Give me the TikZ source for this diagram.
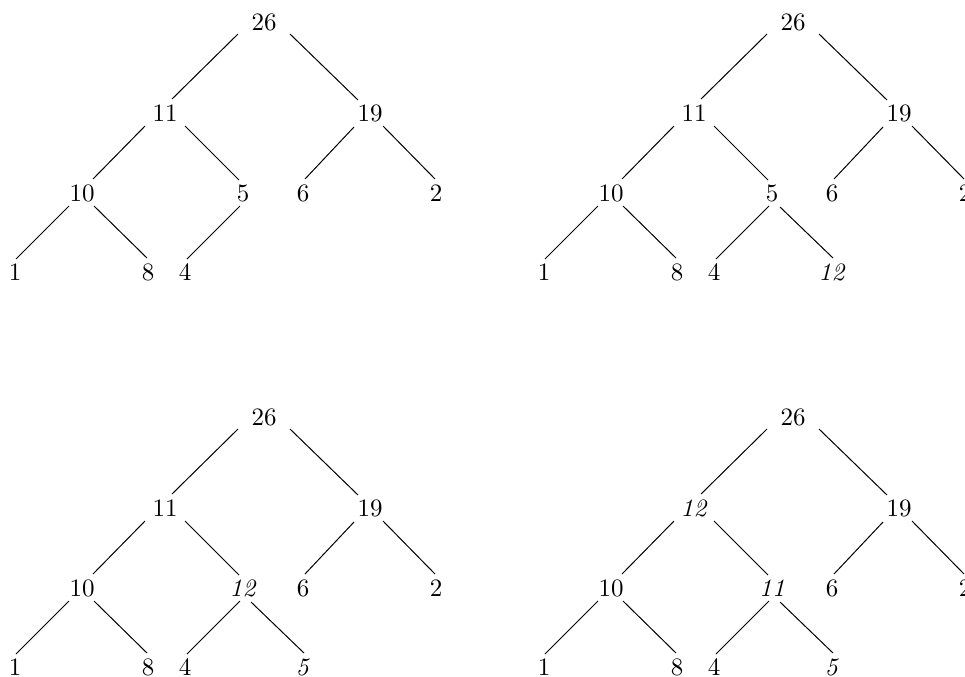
\documentclass[tikz,border=0pt]{standalone}
\tikzset{
  val/.style={inner sep=0pt, font=\normalsize},
  tedge/.style={line width=0.4pt, draw=black}
}
% edge from parent #1 (offset #2) to child #3 (offset #4)
\newcommand\hedge[4]{\draw[tedge] ([shift={(#2)}]#1.center) -- ([shift={(#4)}]#3.center);}
% heap tree: #1 prefix, #2 x offset, #3 y offset, #4 label at 11-slot, #5 label at 5-slot, #6 extra leaf (1 = yes), #7 leaf label
\newcommand\heaptree[7]{%
  \node[val] (#1r) at ({264+#2},{22+#3}) {26};
  \node[val] (#1a) at ({165+#2},{113+#3}) {#4};
  \node[val] (#1b) at ({370+#2},{113+#3}) {19};
  \node[val] (#1c) at ({82+#2},{193+#3}) {10};
  \node[val] (#1d) at ({243+#2},{193+#3}) {#5};
  \node[val] (#1e) at ({303+#2},{193+#3}) {6};
  \node[val] (#1f) at ({436+#2},{193+#3}) {2};
  \node[val] (#1g) at ({15+#2},{272+#3}) {1};
  \node[val] (#1h) at ({148+#2},{272+#3}) {8};
  \node[val] (#1i) at ({185+#2},{272+#3}) {4};
  \hedge{#1r}{-26,12}{#1a}{7,-14}
  \hedge{#1r}{26,12}{#1b}{-12,-13}
  \hedge{#1a}{-20,13}{#1c}{11,-14}
  \hedge{#1a}{20,13}{#1d}{-4,-13}
  \hedge{#1b}{-16,14}{#1e}{2,-14}
  \hedge{#1b}{13,13}{#1f}{-1,-14}
  \hedge{#1c}{-13,13}{#1g}{1,-13}
  \hedge{#1c}{12,13}{#1h}{-1,-14}
  \hedge{#1d}{-3,13}{#1i}{2,-13}
  \ifnum#6=1
    \node[val] (#1j) at ({303+#2},{272+#3}) {#7};
    \hedge{#1d}{8,14}{#1j}{1,-14}
  \fi
}
\begin{document}
\begin{tikzpicture}[x=0.4pt,y=-0.4pt]
  \useasboundingbox (0,0) rectangle (965,676);
  \clip (0,0) rectangle (965,676);
  \heaptree{p}{0}{0}{11}{5}{0}{}
  \heaptree{q}{529}{0}{11}{5}{1}{\textit{12}}
  \heaptree{s}{0}{395}{11}{\textit{12}}{1}{\textit{5}}
  \heaptree{t}{529}{395}{\textit{12}}{\textit{11}}{1}{\textit{5}}
\end{tikzpicture}
\end{document}
